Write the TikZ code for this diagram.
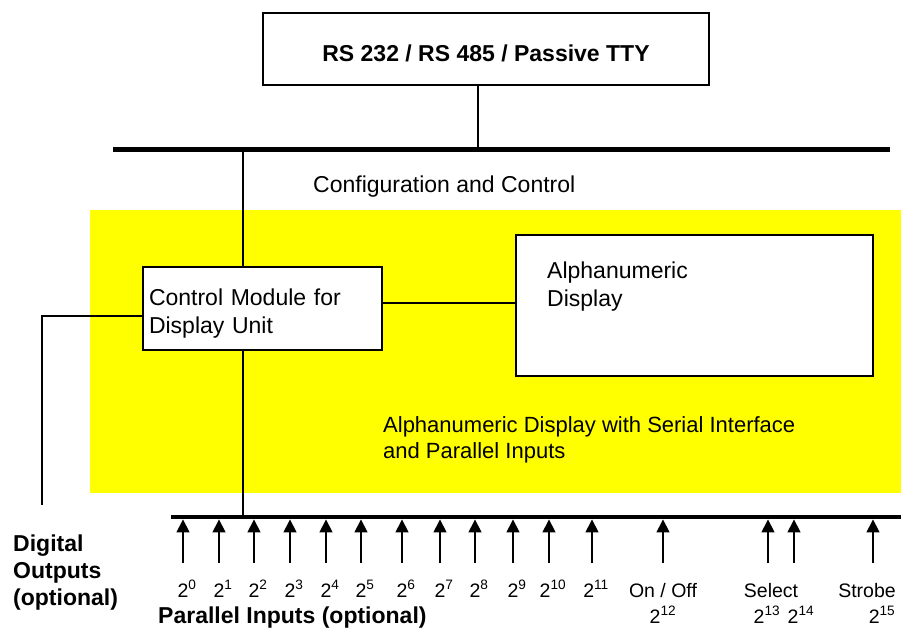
\documentclass[tikz,border=0pt]{standalone}
\usepackage{fontspec}
\setmainfont{Liberation Sans}
\usepackage{tikz}
\usetikzlibrary{arrows.meta}
\definecolor{panel}{RGB}{255, 255, 0}

\begin{document}
\begin{tikzpicture}[
    x=1pt, y=-1pt,
    box/.style={
      rectangle, draw=black, line width=1.8pt, fill=white,
      font=\fontsize{23}{28.5}\selectfont, align=left
    },
    bus/.style={fill=black, inner sep=0pt, minimum height=4.5pt},
    wire/.style={line width=1.6pt},
    arr/.style={-{Triangle[width=13pt, length=13pt]}, line width=1.6pt},
    txt/.style={font=\fontsize{23}{28}\selectfont, inner sep=0pt,
      align=left, anchor=base west},
    hdr/.style={font=\bfseries\fontsize{23}{27}\selectfont, inner sep=0pt,
      align=left, anchor=base west},
    lbl/.style={font=\fontsize{19.5}{24}\selectfont, inner sep=0pt, anchor=base}
  ]
  \useasboundingbox (0,0) rectangle (901,628);

  % ── Yellow panel: the display unit ─────────────────────────────
  \fill[panel] (90,210) rectangle (901,493);

  % ── Serial interface and configuration bus ─────────────────────
  \node[box, font=\bfseries\fontsize{23}{28}\selectfont,
    minimum width=446pt, minimum height=72pt,
    text height=26pt, text depth=0pt] (rs) at (486,49)
    {RS 232 / RS 485 / Passive TTY};
  \node[bus, minimum width=777pt] (topbus) at (501.5,149.5) {};
  \draw[wire] ([xshift=-8pt]rs.south) -- ([xshift=-8pt]rs.south |- topbus.north);
  \node[txt] (cfg) at (313,193) {Configuration and Control};

  % ── Control module and display ─────────────────────────────────
  \coordinate (trunk) at (243,0);
  \node[box, text width=227pt, inner xsep=6pt, minimum height=83pt,
    text height=27pt, text depth=34pt]
    (ctrl) at (262.5,308.5) {Control Module for\\Display Unit};
  \node[box, minimum width=357pt, minimum height=141pt]
    (alpha) at (694.5,305.5) {};
  \node[txt] (alphatxt) at (547,306) {Alphanumeric\\Display};
  \node[txt, font=\fontsize{22}{26}\selectfont] (caption) at (383,458)
    {Alphanumeric Display with Serial Interface\\and Parallel Inputs};

  \draw[wire] (topbus.south -| trunk) -- (ctrl.north -| trunk);
  \draw[wire] ([yshift=5.5pt]ctrl.east) -- ([yshift=5.5pt]ctrl.east -| alpha.west);

  % ── Digital outputs ────────────────────────────────────────────
  \coordinate (dout) at (42,505);
  \draw[wire] ([yshift=-7.5pt]ctrl.west) -| (dout);
  \node[hdr] (digital) at (13,605) {Digital\\Outputs\\(optional)};

  % ── Parallel inputs bus ────────────────────────────────────────
  \node[bus, minimum width=730pt] (botbus) at (536,517) {};
  \draw[wire] (ctrl.south -| trunk) -- (botbus.north -| trunk);

  \foreach \i/\x in {0/183, 1/219, 2/254, 3/290, 4/326, 5/361, 6/402, 7/440,
      8/475, 9/513, 10/549, 11/592, 12/663, 13/768, 14/794, 15/873} {
    \coordinate (in\i) at (\x,563);
    \draw[arr] (in\i) -- (in\i |- botbus.south);
  }
  \foreach \i in {0,...,11}
    \node[lbl] (bit\i) at ([xshift=4pt, yshift=-34pt]in\i) {2\textsuperscript{\i}};

  \node[lbl] (onoff)  at (663,597) {On / Off};
  \node[lbl] (bit12)  at (663,623) {2\textsuperscript{12}};
  \node[lbl] (select) at (771,597) {Select};
  \node[lbl] (bit13)  at (767,623) {2\textsuperscript{13}};
  \node[lbl] (bit14)  at (801,623) {2\textsuperscript{14}};
  \node[lbl] (strobe) at (867,597) {Strobe};
  \node[lbl] (bit15)  at (882,623) {2\textsuperscript{15}};

  \node[hdr] (parallel) at (158,623) {Parallel Inputs (optional)};

\end{tikzpicture}
\end{document}
